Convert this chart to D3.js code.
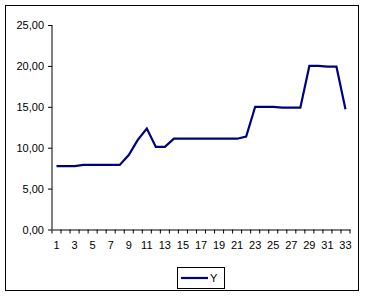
<!DOCTYPE html>
<html>
<head>
<meta charset="utf-8">
<script src="https://cdn.jsdelivr.net/npm/d3@7"></script>
<style>
  body { margin: 0; background: #fff; }
  svg { display: block; font-family: "Liberation Sans", Arial, sans-serif; }
</style>
</head>
<body>
<svg id="chart"></svg>
<script>
// datos
var categories = d3.range(1, 34);
var values = [7.75, 7.75, 7.75, 7.9, 7.9, 7.9, 7.9, 7.9, 9.1, 10.95,
              12.35, 10.1, 10.1, 11.1, 11.1, 11.1, 11.1, 11.1, 11.1, 11.1,
              11.1, 11.35, 15.0, 15.0, 15.0, 14.9, 14.9, 14.9, 20.0, 20.0,
              19.9, 19.9, 14.7];
var yTicks = [0, 5, 10, 15, 20, 25];
var seriesName = "Y";

var svgWidth = 365, svgHeight = 297;
var plotLeft = 52, plotRight = 350, plotTop = 25, plotBottom = 229.5;

var svg = d3.select("#chart")
    .attr("width", svgWidth)
    .attr("height", svgHeight);

// marco exterior
svg.append("rect")
    .attr("x", 5.5).attr("y", 5.5)
    .attr("width", 353).attr("height", 285)
    .attr("fill", "none")
    .attr("stroke", "#000");

var x = d3.scaleBand()
    .domain(categories)
    .range([plotLeft, plotRight]);

var y = d3.scaleLinear()
    .domain([0, 25])
    .range([plotBottom, plotTop]);

var fmt = function(d) { return d3.format(".2f")(d).replace(".", ","); };

// eje Y
var gy = svg.append("g")
    .attr("transform", "translate(" + plotLeft + ",0)")
    .call(d3.axisLeft(y).tickValues(yTicks).tickSize(4).tickPadding(4).tickFormat(fmt));

// eje X (marcas entre categorias)
var gx = svg.append("g")
    .attr("transform", "translate(0," + plotBottom + ")")
    .call(d3.axisBottom(x).tickValues(categories.filter(function(d) { return d % 2 === 1; }))
        .tickSize(0).tickPadding(12));

gx.selectAll(".tick line").remove();
var bounds = d3.range(0, categories.length + 1);
gx.selectAll(".bt")
    .data(bounds)
    .enter().append("line")
    .attr("x1", function(i) { return plotLeft + i * x.step(); })
    .attr("x2", function(i) { return plotLeft + i * x.step(); })
    .attr("y1", 0).attr("y2", 4)
    .attr("stroke", "#000");

svg.selectAll(".domain").attr("stroke", "#000");
svg.selectAll(".tick text").attr("fill", "#000").style("font-size", "11px");
gy.select(".domain").attr("d", "M0," + plotTop + "V" + plotBottom);

var line = d3.line()
    .x(function(d, i) { return x(categories[i]) + x.bandwidth() / 2; })
    .y(function(d) { return y(d); });

svg.append("path")
    .datum(values)
    .attr("fill", "none")
    .attr("stroke", "#000080")
    .attr("stroke-width", 2.2)
    .attr("stroke-linejoin", "miter")
    .attr("d", line);

// leyenda
var lg = svg.append("g").attr("transform", "translate(177,267)");
lg.append("rect")
    .attr("x", 0.5).attr("y", 0.5)
    .attr("width", 47).attr("height", 21)
    .attr("fill", "#fff").attr("stroke", "#000");
lg.append("line")
    .attr("x1", 4).attr("x2", 31)
    .attr("y1", 11).attr("y2", 11)
    .attr("stroke", "#000080").attr("stroke-width", 2.2);
lg.append("text")
    .attr("x", 33).attr("y", 15)
    .style("font-size", "11px")
    .text(seriesName);
</script>
</body>
</html>
